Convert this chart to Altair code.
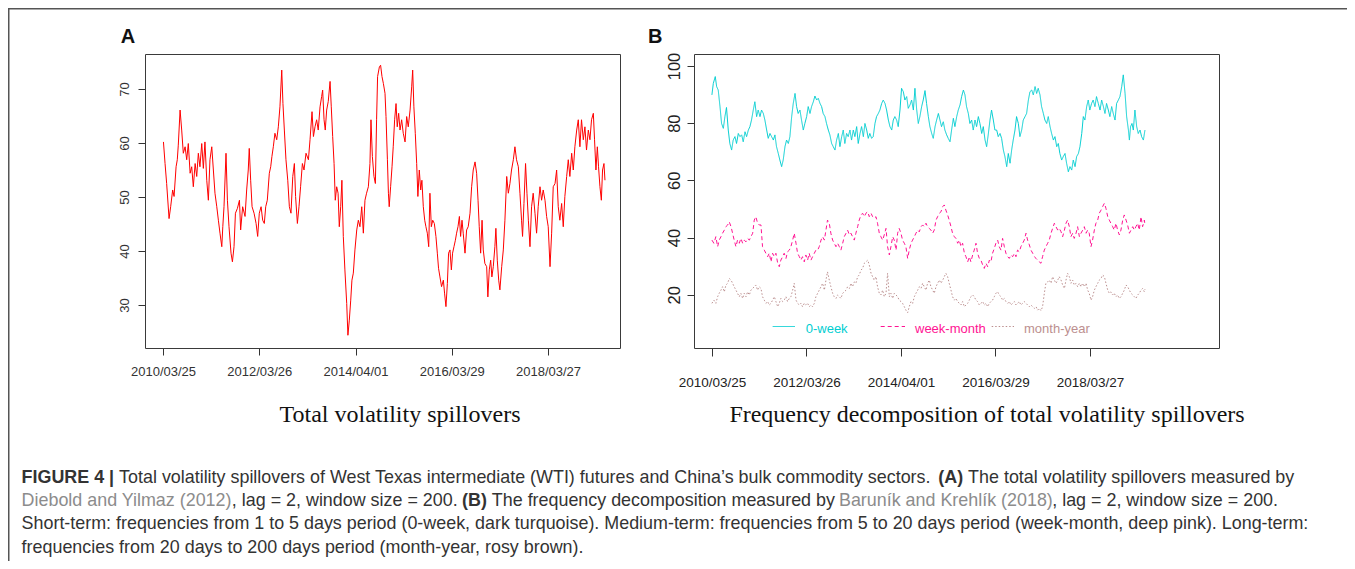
import altair as alt
import pandas as pd

# ------------------------------------------------------------------ data
TICK_IDX = [0, 480, 960, 1440, 1920]
TICK_LAB = ['2010/03/25', '2012/03/26', '2014/04/01', '2016/03/29', '2018/03/27']
A_TICKS_Y = [30, 40, 50, 60, 70]
B_TICKS_Y = [20, 40, 60, 80, 100]

# Panel A: total volatility spillovers (observation index, value)
A_idx = [2, 10, 18, 30, 38, 48, 55, 65, 71, 76,
         85, 93, 101, 110, 118, 126, 135, 143, 151, 160,
         168, 176, 184, 193, 201, 209, 218, 226, 234, 243,
         251, 259, 268, 276, 284, 293, 298, 304, 314, 321,
         329, 339, 346, 354, 361, 371, 381, 387, 397, 409,
         417, 425, 430, 437, 444, 454, 464, 472, 480, 489,
         497, 505, 512, 520, 530, 537, 543, 550, 558, 567,
         575, 583, 592, 598, 605, 613, 622, 630, 638, 647,
         655, 661, 670, 678, 686, 695, 703, 713, 725, 733,
         743, 750, 758, 766, 774, 783, 791, 796, 803, 809,
         816, 824, 833, 839, 846, 853, 859, 866, 873, 879,
         886, 892, 899, 907, 916, 922, 929, 936, 942, 949,
         957, 966, 974, 982, 991, 999, 1007, 1015, 1024, 1032,
         1037, 1044, 1052, 1059, 1065, 1070, 1079, 1085, 1092, 1099,
         1107, 1112, 1119, 1124, 1128, 1135, 1142, 1148, 1155, 1162,
         1168, 1175, 1182, 1190, 1198, 1207, 1215, 1223, 1232, 1240,
         1245, 1251, 1258, 1265, 1271, 1278, 1285, 1291, 1298, 1305,
         1311, 1318, 1325, 1331, 1338, 1345, 1353, 1361, 1368, 1374,
         1381, 1389, 1398, 1404, 1411, 1418, 1424, 1431, 1438, 1444,
         1451, 1458, 1464, 1471, 1478, 1484, 1491, 1497, 1506, 1514,
         1522, 1531, 1539, 1547, 1556, 1564, 1571, 1577, 1584, 1591,
         1597, 1605, 1614, 1620, 1627, 1634, 1640, 1647, 1655, 1660,
         1667, 1674, 1680, 1689, 1697, 1705, 1714, 1722, 1730, 1738,
         1747, 1755, 1763, 1772, 1780, 1788, 1793, 1800, 1808, 1815,
         1822, 1830, 1838, 1846, 1855, 1863, 1871, 1880, 1888, 1896,
         1905, 1913, 1921, 1930, 1938, 1946, 1955, 1963, 1971, 1979,
         1988, 1996, 2004, 2013, 2021, 2029, 2038, 2046, 2054, 2063,
         2071, 2079, 2087, 2096, 2104, 2112, 2121, 2129, 2137, 2146,
         2152, 2159, 2166, 2172, 2179, 2186, 2192, 2199, 2204]
A_val = [60.2, 56.2, 52.5, 46.0, 48.2, 51.3, 50.1, 55.6, 56.9, 59.6,
         66.1, 62.4, 58.1, 59.3, 56.9, 59.9, 54.4, 55.6, 51.9, 56.2,
         53.8, 58.1, 55.6, 59.9, 55.3, 60.2, 53.1, 49.4, 56.9, 59.3,
         55.0, 50.7, 48.2, 45.7, 43.3, 40.8, 44.5, 48.2, 58.1, 49.4,
         44.5, 39.6, 38.0, 40.8, 47.0, 47.9, 49.4, 43.9, 48.2, 46.4,
         51.3, 55.0, 59.0, 53.1, 48.2, 47.0, 45.1, 42.7, 47.0, 48.2,
         45.7, 45.1, 48.2, 49.4, 54.4, 55.6, 57.5, 59.3, 61.8, 60.6,
         63.0, 66.7, 73.5, 67.3, 62.4, 56.9, 53.1, 48.2, 47.0, 53.8,
         56.2, 50.1, 45.1, 48.2, 51.9, 56.2, 55.0, 58.1, 56.9, 60.6,
         65.8, 61.2, 63.0, 64.3, 62.4, 66.7, 68.6, 69.8, 64.3, 62.4,
         66.1, 67.7, 71.4, 66.7, 61.2, 56.2, 49.4, 51.9, 50.7, 44.5,
         48.2, 53.1, 42.7, 36.5, 30.3, 24.4, 27.2, 30.9, 34.6, 35.9,
         40.2, 43.9, 45.7, 44.5, 48.2, 43.3, 49.4, 50.7, 51.9, 56.2,
         64.3, 57.5, 53.8, 52.5, 64.3, 72.3, 74.1, 74.4, 72.3, 71.0,
         69.2, 64.9, 56.9, 50.7, 48.2, 51.9, 55.6, 59.3, 64.3, 67.3,
         63.0, 65.5, 62.4, 64.3, 61.8, 60.2, 64.9, 63.0, 66.1, 70.4,
         73.5, 66.7, 61.8, 56.2, 50.1, 55.0, 51.3, 53.1, 48.2, 45.7,
         44.5, 43.3, 40.8, 50.7, 44.5, 45.7, 45.1, 42.7, 39.6, 36.8,
         35.2, 33.4, 34.6, 32.2, 29.7, 34.0, 39.6, 40.2, 36.5, 39.6,
         40.8, 42.0, 43.3, 44.5, 46.4, 42.7, 45.7, 43.3, 39.6, 43.9,
         44.5, 47.0, 51.9, 55.0, 56.5, 54.4, 49.4, 44.5, 39.6, 45.7,
         40.2, 37.7, 37.1, 31.5, 36.5, 38.3, 35.2, 37.1, 40.8, 44.2,
         38.3, 34.6, 32.8, 37.1, 40.2, 45.7, 53.8, 50.7, 52.5, 55.0,
         56.9, 59.3, 56.9, 55.6, 50.7, 45.7, 42.7, 48.8, 56.2, 50.7,
         45.7, 40.8, 48.2, 50.7, 47.0, 43.3, 48.2, 51.9, 49.4, 51.3,
         49.4, 46.4, 44.5, 37.1, 43.3, 51.9, 52.5, 55.0, 48.2, 45.7,
         48.8, 44.5, 50.1, 53.8, 56.9, 53.8, 58.1, 55.0, 59.3, 62.4,
         64.3, 59.3, 64.3, 60.6, 63.0, 58.7, 62.4, 60.6, 64.3, 65.5,
         60.6, 55.0, 59.3, 55.6, 51.9, 49.4, 55.0, 56.2, 53.1]

# Panel B, 0-week
B0_idx = [0, 7, 17, 24, 32, 41, 49, 58, 66, 74,
          83, 91, 100, 108, 117, 125, 134, 142, 151, 159,
          168, 176, 185, 193, 201, 210, 218, 227, 235, 244,
          252, 261, 269, 278, 286, 295, 303, 312, 320, 328,
          337, 345, 354, 362, 371, 379, 388, 396, 405, 413,
          422, 430, 438, 447, 455, 464, 472, 481, 489, 498,
          506, 515, 523, 532, 540, 549, 557, 565, 574, 582,
          591, 599, 608, 616, 625, 633, 642, 650, 659, 667,
          675, 684, 692, 701, 709, 718, 726, 735, 743, 752,
          760, 769, 777, 786, 794, 802, 811, 819, 828, 836,
          845, 853, 862, 870, 879, 887, 896, 904, 913, 921,
          929, 938, 946, 955, 963, 972, 980, 989, 997, 1006,
          1014, 1023, 1031, 1040, 1048, 1056, 1065, 1073, 1082, 1090,
          1099, 1107, 1116, 1124, 1133, 1141, 1150, 1158, 1166, 1175,
          1183, 1192, 1200, 1209, 1217, 1226, 1234, 1243, 1251, 1260,
          1268, 1277, 1285, 1293, 1302, 1310, 1319, 1327, 1336, 1344,
          1353, 1361, 1370, 1378, 1387, 1395, 1403, 1412, 1420, 1429,
          1437, 1446, 1454, 1463, 1471, 1480, 1488, 1497, 1505, 1514,
          1522, 1530, 1539, 1547, 1556, 1564, 1573, 1581, 1590, 1598,
          1607, 1615, 1624, 1632, 1641, 1649, 1657, 1666, 1674, 1683,
          1691, 1700, 1708, 1717, 1725, 1734, 1742, 1751, 1759, 1767,
          1776, 1784, 1793, 1801, 1810, 1818, 1827, 1835, 1844, 1852,
          1861, 1869, 1878, 1886, 1894, 1903, 1911, 1919, 1928, 1936,
          1945, 1953, 1962, 1971, 1979, 1988, 1996, 2004, 2013, 2021,
          2030, 2038, 2047, 2055, 2064, 2072, 2081, 2089, 2098, 2106,
          2115, 2120, 2126, 2133, 2140, 2148, 2157, 2165, 2174, 2182,
          2191, 2199]
B0_val = [89.9, 93.9, 96.3, 92.8, 91.6, 85.8, 79.9, 78.2, 82.3, 85.5,
          77.6, 72.9, 70.6, 74.1, 75.3, 72.9, 76.4, 75.3, 75.9, 73.5,
          77.0, 75.3, 77.6, 78.8, 81.1, 84.6, 87.5, 82.3, 84.6, 82.3,
          84.6, 83.4, 81.1, 77.6, 74.7, 76.4, 75.3, 74.1, 75.9, 71.8,
          69.4, 67.1, 64.8, 67.1, 71.8, 74.1, 72.9, 75.3, 82.3, 86.9,
          90.4, 85.8, 83.4, 84.6, 81.1, 77.6, 79.9, 82.3, 85.8, 83.4,
          85.8, 87.5, 89.5, 88.1, 88.7, 86.9, 85.8, 83.4, 82.3, 79.9,
          77.6, 75.9, 72.9, 71.8, 70.6, 74.1, 76.4, 71.8, 75.3, 77.6,
          72.9, 76.4, 75.3, 77.6, 74.1, 77.6, 75.3, 78.8, 72.9, 76.4,
          78.8, 75.3, 79.9, 77.6, 74.7, 76.4, 74.7, 75.3, 79.9, 82.3,
          83.4, 84.6, 86.9, 88.1, 86.9, 84.6, 81.1, 78.8, 77.6, 81.1,
          82.3, 81.1, 78.8, 84.6, 92.2, 91.0, 88.1, 89.3, 85.2, 86.4,
          88.1, 84.6, 92.2, 84.6, 79.9, 82.3, 85.8, 88.1, 91.4, 86.9,
          82.3, 78.8, 76.4, 74.7, 78.8, 81.1, 83.4, 81.1, 78.8, 80.5,
          77.6, 75.9, 74.7, 73.5, 77.6, 81.7, 78.8, 82.3, 84.6, 86.4,
          89.3, 91.6, 89.9, 85.8, 83.4, 79.9, 81.1, 77.6, 81.1, 78.8,
          82.3, 79.9, 76.4, 78.8, 74.1, 71.8, 75.9, 81.1, 84.6, 81.1,
          77.6, 77.6, 75.3, 76.4, 74.7, 70.6, 68.3, 64.8, 69.4, 66.0,
          70.6, 74.1, 77.6, 82.3, 79.9, 75.3, 77.6, 81.1, 82.3, 83.4,
          88.1, 91.0, 91.6, 89.9, 92.8, 90.4, 92.2, 89.9, 85.8, 83.4,
          81.1, 79.9, 82.3, 78.8, 76.4, 74.1, 75.3, 71.8, 72.9, 69.4,
          67.1, 68.3, 69.4, 66.0, 63.0, 64.8, 63.6, 67.1, 64.8, 68.3,
          69.4, 71.8, 76.4, 82.3, 81.1, 85.8, 88.1, 84.6, 86.9, 88.1,
          85.8, 89.3, 86.9, 84.6, 88.1, 85.8, 83.4, 86.9, 84.6, 82.3,
          85.8, 83.4, 81.1, 86.9, 88.1, 89.3, 92.8, 96.9, 90.4, 82.3,
          77.6, 74.1, 78.8, 79.9, 77.6, 84.6, 78.8, 76.4, 77.6, 75.3,
          74.1, 77.6]

# Panel B, week-month and month-year (shared observation index)
B_idx = [0, 10, 20, 29, 37, 46, 54, 63, 71, 80,
         88, 97, 105, 113, 122, 130, 139, 147, 156, 164,
         173, 181, 190, 198, 207, 215, 223, 232, 240, 249,
         257, 266, 274, 283, 291, 300, 308, 317, 325, 334,
         342, 350, 359, 367, 376, 384, 393, 401, 410, 418,
         427, 435, 444, 452, 460, 469, 477, 486, 494, 503,
         511, 520, 528, 537, 545, 554, 562, 571, 579, 587,
         596, 604, 613, 621, 630, 638, 647, 655, 664, 672,
         681, 689, 698, 706, 714, 723, 731, 740, 748, 757,
         765, 774, 782, 791, 799, 808, 816, 824, 833, 841,
         850, 858, 867, 875, 884, 892, 901, 909, 918, 926,
         935, 943, 951, 960, 968, 977, 985, 994, 1002, 1011,
         1019, 1028, 1036, 1045, 1053, 1062, 1070, 1078, 1087, 1095,
         1104, 1112, 1121, 1129, 1138, 1146, 1155, 1163, 1172, 1180,
         1188, 1197, 1205, 1214, 1222, 1231, 1239, 1248, 1256, 1265,
         1273, 1282, 1290, 1299, 1307, 1315, 1324, 1332, 1341, 1349,
         1358, 1366, 1375, 1383, 1392, 1400, 1409, 1417, 1425, 1434,
         1442, 1451, 1459, 1468, 1476, 1485, 1493, 1502, 1510, 1519,
         1527, 1536, 1544, 1552, 1561, 1569, 1578, 1586, 1595, 1603,
         1612, 1620, 1629, 1637, 1646, 1654, 1662, 1671, 1679, 1688,
         1696, 1705, 1713, 1722, 1730, 1739, 1747, 1756, 1764, 1773,
         1781, 1790, 1798, 1806, 1815, 1823, 1832, 1840, 1849, 1857,
         1866, 1874, 1883, 1891, 1900, 1908, 1916, 1925, 1933, 1942,
         1950, 1959, 1967, 1976, 1984, 1993, 2001, 2010, 2018, 2026,
         2035, 2043, 2052, 2060, 2069, 2077, 2086, 2094, 2103, 2111,
         2120, 2128, 2137, 2145, 2153, 2162, 2170, 2179, 2187, 2196,
         2199]
B_wm = [39.1, 38.0, 40.3, 36.8, 39.1, 40.3, 41.5, 42.6, 43.8, 44.4,
        45.5, 43.8, 41.5, 39.1, 36.8, 39.1, 38.0, 39.7, 38.0, 39.1,
        38.5, 39.7, 39.1, 40.3, 41.5, 46.1, 47.3, 45.0, 44.4, 44.4,
        36.8, 35.6, 34.5, 33.3, 34.5, 31.5, 34.5, 33.3, 34.5, 31.0,
        29.8, 32.1, 33.3, 34.5, 32.7, 35.0, 35.6, 36.8, 39.1, 41.5,
        38.0, 34.5, 33.3, 32.1, 33.3, 31.5, 33.9, 32.1, 34.5, 32.1,
        33.3, 34.5, 35.6, 35.6, 36.8, 39.1, 40.3, 39.1, 42.6, 46.1,
        45.0, 41.5, 39.1, 38.0, 36.8, 38.0, 36.8, 35.6, 38.0, 40.3,
        41.5, 42.6, 40.9, 41.5, 40.3, 39.1, 41.5, 43.8, 46.1, 47.9,
        48.5, 47.3, 48.5, 49.0, 47.3, 48.5, 47.3, 46.7, 47.3, 45.0,
        41.5, 40.3, 39.1, 40.9, 43.2, 36.8, 33.9, 36.8, 40.3, 39.1,
        35.6, 41.5, 43.2, 41.5, 39.1, 38.0, 36.8, 32.7, 35.6, 38.0,
        39.1, 40.3, 41.5, 42.6, 42.0, 43.8, 44.4, 43.8, 45.0, 43.8,
        43.2, 42.6, 41.5, 42.6, 46.1, 47.3, 48.5, 49.0, 50.8, 51.4,
        49.6, 47.9, 46.1, 43.8, 41.5, 40.3, 39.7, 38.0, 39.1, 36.8,
        38.0, 34.5, 33.3, 31.5, 33.3, 31.5, 33.9, 35.6, 38.0, 34.5,
        32.7, 32.1, 30.4, 29.2, 31.0, 29.8, 32.1, 31.5, 34.5, 36.2,
        38.0, 39.1, 36.8, 35.6, 39.7, 36.8, 34.5, 33.3, 32.7, 33.9,
        33.3, 34.5, 33.3, 35.6, 35.0, 36.8, 38.0, 39.1, 41.5, 39.1,
        37.4, 35.6, 34.5, 33.3, 32.7, 32.1, 31.5, 31.0, 33.3, 35.6,
        36.8, 38.0, 39.1, 41.5, 43.2, 45.0, 43.8, 42.6, 43.2, 42.0,
        40.3, 42.6, 45.0, 46.1, 43.8, 40.3, 41.5, 39.7, 41.5, 43.8,
        40.3, 41.5, 42.6, 43.8, 41.5, 42.6, 41.5, 36.8, 39.1, 42.6,
        45.0, 46.1, 48.5, 49.6, 50.8, 52.0, 50.2, 47.3, 46.1, 45.0,
        43.8, 42.6, 45.0, 42.6, 40.9, 42.6, 46.1, 47.9, 46.1, 44.4,
        41.5, 42.6, 43.8, 42.6, 43.8, 45.0, 42.6, 47.3, 43.8, 46.1,
        44.4]
B_my = [17.0, 18.1, 17.0, 19.3, 20.5, 21.6, 22.8, 21.0, 23.4, 24.0,
        25.7, 25.1, 24.0, 22.8, 21.6, 20.5, 19.3, 20.5, 18.7, 20.5,
        19.3, 21.0, 19.9, 21.6, 22.2, 22.8, 23.4, 21.6, 22.8, 22.2,
        19.3, 18.1, 17.0, 17.6, 16.4, 17.0, 18.1, 19.3, 17.6, 15.8,
        17.0, 18.7, 17.6, 18.1, 19.3, 17.6, 18.7, 19.3, 21.6, 24.0,
        18.1, 17.0, 16.4, 17.0, 15.8, 17.0, 16.4, 17.0, 15.8, 16.4,
        15.8, 17.0, 19.3, 20.5, 21.6, 22.8, 24.0, 21.6, 25.1, 28.0,
        25.1, 22.8, 20.5, 19.3, 18.7, 19.9, 19.3, 18.7, 20.5, 21.0,
        21.6, 22.8, 22.2, 24.0, 22.8, 24.5, 24.0, 26.3, 26.9, 28.6,
        29.2, 31.0, 31.5, 32.1, 30.4, 27.5, 26.3, 25.1, 26.3, 22.8,
        20.5, 19.9, 21.6, 19.3, 20.5, 27.5, 19.3, 20.5, 18.7, 20.5,
        19.9, 19.3, 18.1, 17.6, 17.0, 15.8, 14.6, 13.7, 15.8, 17.6,
        17.0, 19.3, 20.5, 21.6, 22.8, 22.2, 24.0, 22.8, 21.6, 24.0,
        25.1, 22.8, 21.6, 20.5, 22.8, 24.0, 25.1, 24.0, 25.1, 26.3,
        27.5, 26.3, 24.0, 21.6, 19.3, 18.1, 18.7, 17.6, 17.0, 16.4,
        17.6, 15.8, 16.4, 17.0, 18.1, 19.3, 19.9, 19.3, 18.1, 17.6,
        16.4, 17.0, 17.6, 16.4, 17.0, 15.8, 17.0, 17.6, 18.1, 19.3,
        20.5, 21.0, 19.9, 19.3, 18.1, 18.7, 17.6, 17.0, 17.6, 16.4,
        17.0, 17.6, 16.4, 17.0, 17.6, 16.4, 17.0, 17.6, 17.0, 16.4,
        15.8, 16.4, 15.8, 15.2, 15.8, 14.6, 15.2, 14.4, 15.8, 20.5,
        24.0, 24.5, 25.1, 24.0, 26.3, 25.1, 24.0, 25.1, 26.3, 25.1,
        23.4, 22.2, 25.1, 27.5, 26.3, 24.0, 25.1, 23.4, 24.0, 22.8,
        24.0, 22.8, 24.0, 22.8, 24.0, 21.6, 20.5, 18.1, 19.3, 21.6,
        22.8, 24.0, 25.1, 25.7, 26.9, 26.3, 24.0, 21.6, 20.5, 21.0,
        19.9, 20.5, 19.3, 19.9, 18.7, 19.3, 20.5, 21.6, 23.4, 22.8,
        21.6, 20.5, 19.9, 19.3, 18.7, 19.9, 20.5, 21.6, 22.2, 21.0,
        21.9]

SERIES = ['0-week', 'week-month', 'month-year']
COLORS = ['#00CED1', '#FF1493', '#BC8F8F']
DASHES = [[1, 0], [4, 3], [1.5, 2]]

# ------------------------------------------------------------------ layout
W, H = 1339, 553
PY = [340, 46]                      # plot rows (bottom, top) for both panels
AX = [137, 612]                     # panel A plot columns
BX = [686, 1211]                    # panel B plot columns
A_XDOM = [-90, 2279]
B_XDOM = [-91, 2575]
A_YDOM = [22.04, 76.48]
B_YDOM = [1.36, 104.2]
SANS = 'Liberation Sans'

lab_expr = ''.join(f"datum.value == {v} ? '{l}' : " for v, l in zip(TICK_IDX, TICK_LAB)) + "''"

dfA = pd.DataFrame({'idx': A_idx, 'v': A_val})
dfB = pd.concat([
    pd.DataFrame({'idx': B0_idx, 'v': B0_val, 's': SERIES[0]}),
    pd.DataFrame({'idx': B_idx, 'v': B_wm, 's': SERIES[1]}),
    pd.DataFrame({'idx': B_idx, 'v': B_my, 's': SERIES[2]}),
], ignore_index=True)


def xaxis(size, color, tick, pad):
    return alt.Axis(orient='bottom', offset=PY[0] - H, values=TICK_IDX, labelExpr=lab_expr,
                    grid=False, domain=False, tickSize=tick, tickColor='#333', tickWidth=1,
                    labelFont=SANS, labelFontSize=size, labelColor=color, labelPadding=pad,
                    labelAlign='center', labelBaseline='top', labelFlush=False,
                    labelOverlap=False, title=None)


def yaxis(values, left, size, color, pad):
    return alt.Axis(orient='left', offset=-left, values=values, grid=False, domain=False,
                    tickSize=7, tickColor='#333', tickWidth=1, labelAngle=270,
                    labelAlign='center', labelBaseline='bottom', labelFont=SANS,
                    labelFontSize=size, labelColor=color, labelPadding=pad,
                    labelOverlap=False, title=None)


lineA = alt.Chart(dfA).mark_line(color='#FF0000', strokeWidth=1).encode(
    x=alt.X('idx:Q', scale=alt.Scale(domain=A_XDOM, range=AX, nice=False, zero=False),
            axis=xaxis(13, '#333', 7, 10.5)),
    y=alt.Y('v:Q', scale=alt.Scale(domain=A_YDOM, range=PY, nice=False, zero=False),
            axis=yaxis(A_TICKS_Y, AX[0], 13, '#333', 6.3)),
)

lineB = alt.Chart(dfB).mark_line(strokeWidth=1).encode(
    x=alt.X('idx:Q', scale=alt.Scale(domain=B_XDOM, range=BX, nice=False, zero=False),
            axis=xaxis(13.5, '#222', 8, 19)),
    y=alt.Y('v:Q', scale=alt.Scale(domain=B_YDOM, range=PY, nice=False, zero=False),
            axis=yaxis(B_TICKS_Y, BX[0], 16.5, '#222', 4.5)),
    color=alt.Color('s:N', scale=alt.Scale(domain=SERIES, range=COLORS), legend=None),
    strokeDash=alt.StrokeDash('s:N', scale=alt.Scale(domain=SERIES, range=DASHES), legend=None),
    detail='s:N',
)

PX = lambda f: alt.X(f, scale=None, axis=None)
PYc = lambda f: alt.Y(f, scale=None, axis=None)

# panel boxes
boxes = pd.DataFrame({'x': [AX[0] + 0.5, BX[0] + 0.5], 'x2': [AX[1] + 0.5, BX[1] + 0.5],
                      'y': [PY[1] + 0.5, PY[1] + 0.5], 'y2': [PY[0] + 0.5, PY[0] + 0.5]})
box_layer = alt.Chart(boxes).mark_rect(fillOpacity=0, stroke='#3a3a3a', strokeWidth=1).encode(
    x=PX('x:Q'), x2='x2:Q', y=PYc('y:Q'), y2='y2:Q')

# outer frame (top and left edges)
frame = pd.DataFrame({'x': [0, 0.75], 'x2': [W, 0.75], 'y': [0.75, 0], 'y2': [0.75, H]})
frame_layer = alt.Chart(frame).mark_rule(color='#555', strokeWidth=1.5).encode(
    x=PX('x:Q'), x2='x2:Q', y=PYc('y:Q'), y2='y2:Q')

# panel letters
letters = pd.DataFrame({'t': ['A', 'B'], 'x': [112.7, 640], 'y': [35, 35]})
letter_layer = alt.Chart(letters).mark_text(font=SANS, fontWeight='bold', fontSize=20,
                                            align='left', baseline='alphabetic', color='#111').encode(
    x=PX('x:Q'), y=PYc('y:Q'), text='t:N')

# panel subtitles
subs = pd.DataFrame({'t': ['Total volatility spillovers',
                           'Frequency decomposition of total volatility spillovers'],
                     'x': [392, 979], 'y': [413.7, 413.7]})
sub_layer = alt.Chart(subs).mark_text(font='Liberation Serif', fontSize=24, align='center',
                                      baseline='alphabetic', color='#111').encode(
    x=PX('x:Q'), y=PYc('y:Q'), text='t:N')

# legend of panel B
leg_text = pd.DataFrame({'t': SERIES, 'x': [797.7, 907, 1016], 'y': [324.7, 324.7, 324.7], 'c': COLORS})
leg_text_layer = alt.Chart(leg_text).mark_text(font=SANS, fontSize=13, align='left',
                                               baseline='alphabetic').encode(
    x=PX('x:Q'), y=PYc('y:Q'), text='t:N', color=alt.Color('c:N', scale=None))
leg_x = [[764.7, 787], [872.7, 897], [983.7, 1006]]
leg_rules = []
for (x0, x1), col, dash in zip(leg_x, COLORS, DASHES):
    leg_rules.append(alt.Chart(pd.DataFrame({'x': [x0], 'x2': [x1], 'y': [318.5]})).mark_rule(
        color=col, strokeWidth=1, strokeDash=dash).encode(x=PX('x:Q'), x2='x2:Q', y=PYc('y:Q')))

# caption
W_REG = {' ': 278, '(': 333, ')': 333, ',': 278, '-': 333, '.': 278, '/': 278, ':': 278,
         '=': 584, '|': 260, '\u2019': 222, "'": 191, '\u00ed': 278,
         'A': 667, 'B': 667, 'C': 722, 'D': 722, 'E': 667, 'F': 611, 'G': 778, 'H': 722,
         'I': 278, 'J': 500, 'K': 667, 'L': 556, 'M': 833, 'N': 722, 'O': 778, 'P': 667,
         'Q': 778, 'R': 722, 'S': 667, 'T': 611, 'U': 722, 'V': 667, 'W': 944, 'X': 667,
         'Y': 667, 'Z': 611,
         'a': 556, 'b': 556, 'c': 500, 'd': 556, 'e': 556, 'f': 278, 'g': 556, 'h': 556,
         'i': 222, 'j': 222, 'k': 500, 'l': 222, 'm': 833, 'n': 556, 'o': 556, 'p': 556,
         'q': 556, 'r': 333, 's': 500, 't': 278, 'u': 556, 'v': 500, 'w': 722, 'x': 500,
         'y': 500, 'z': 500}
for d in '0123456789':
    W_REG[d] = 556
W_BOLD = {' ': 278, '(': 333, ')': 333, '|': 280, 'A': 722, 'B': 722, 'E': 667, 'F': 611,
          'G': 778, 'I': 278, 'R': 722, 'U': 722}
for d in '0123456789':
    W_BOLD[d] = 556

CAP_FS = 17.9
CAP_X0 = 13.6
CAP_BASE = [474.8, 498.0, 521.3, 544.6]
DARK, GRAY = '#333333', '#8c8c8c'

CAPTION = [
    [('FIGURE 4 |', 'b'),
     (' Total volatility spillovers of West Texas intermediate (WTI) futures and China\u2019s bulk commodity sectors. ', 'r'),
     ('(A)', 'b'), (' The total volatility spillovers measured by', 'r')],
    [('Diebold and Yilmaz (2012)', 'g'), (', lag = 2, window size = 200. ', 'r'), ('(B)', 'b'),
     (' The frequency decomposition measured by ', 'r'), ('Barun\u00edk and Krehl\u00edk (2018)', 'g'),
     (', lag = 2, window size = 200.', 'r')],
    [('Short-term: frequencies from 1 to 5 days period (0-week, dark turquoise). Medium-term: '
      'frequencies from 5 to 20 days period (week-month, deep pink). Long-term:', 'r')],
    [('frequencies from 20 days to 200 days period (month-year, rosy brown).', 'r')],
]


def tw(s, bold):
    tab = W_BOLD if bold else W_REG
    return sum(tab.get(ch, W_REG.get(ch, 556)) for ch in s) * CAP_FS / 1000.0


reg_rows, bold_rows = [], []
for line, base in zip(CAPTION, CAP_BASE):
    x = CAP_X0
    for seg, sty in line:
        bold = sty == 'b'
        lead = len(seg) - len(seg.lstrip(' '))
        row = {'t': seg.strip(), 'x': x + tw(' ' * lead, bold), 'y': base,
               'c': GRAY if sty == 'g' else DARK}
        (bold_rows if bold else reg_rows).append(row)
        x += tw(seg, bold) * (0.997 if not bold else 1.0)

cap_reg = alt.Chart(pd.DataFrame(reg_rows)).mark_text(font=SANS, fontSize=CAP_FS, align='left',
                                                      baseline='alphabetic').encode(
    x=PX('x:Q'), y=PYc('y:Q'), text='t:N', color=alt.Color('c:N', scale=None))
cap_bold = alt.Chart(pd.DataFrame(bold_rows)).mark_text(font=SANS, fontWeight='bold',
                                                        fontSize=CAP_FS, align='left',
                                                        baseline='alphabetic', color=DARK).encode(
    x=PX('x:Q'), y=PYc('y:Q'), text='t:N')

chart = alt.layer(
    frame_layer, lineA, lineB, box_layer, letter_layer, sub_layer, leg_text_layer, *leg_rules,
    cap_reg, cap_bold,
).resolve_scale(x='independent', y='independent', color='independent', strokeDash='independent'
).resolve_axis(x='independent', y='independent'
).properties(width=W, height=H, autosize=alt.AutoSizeParams(type='none'), padding=0
).configure_view(stroke='transparent')

chart.save('out.html', embed_options={'renderer': 'svg', 'actions': False})
